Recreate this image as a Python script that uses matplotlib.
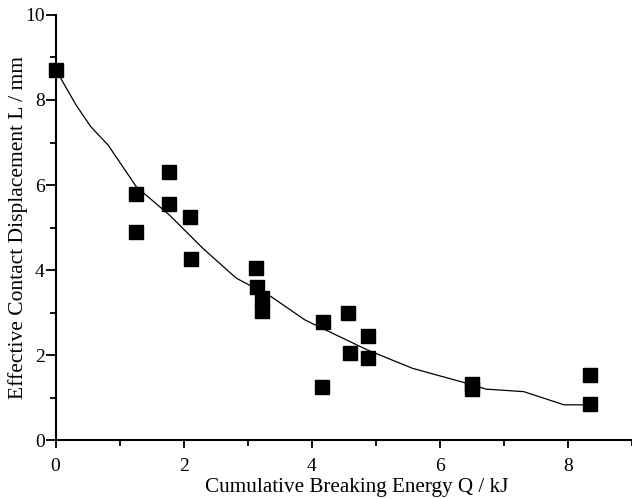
import matplotlib.pyplot as plt
from matplotlib.ticker import MultipleLocator

# measured points
energy_q = [0.0, 1.25, 1.25, 1.77, 1.77, 2.10, 2.11, 3.13, 3.14, 3.23, 3.23,
            4.18, 4.16, 4.57, 4.59, 4.87, 4.87, 6.50, 6.50, 8.35, 8.35]
displacement_l = [8.70, 5.78, 4.90, 6.30, 5.55, 5.24, 4.25, 4.06, 3.60, 3.35, 3.04,
                  2.78, 1.25, 2.98, 2.04, 2.45, 1.93, 1.32, 1.20, 1.53, 0.85]

# fitted curve
fit_q = [0.0, 0.32, 0.55, 0.82, 1.26, 1.78, 2.30, 2.82, 3.37, 3.89, 4.12,
         4.87, 5.57, 6.46, 6.72, 7.31, 7.94, 8.35]
fit_l = [8.72, 7.88, 7.37, 6.94, 5.96, 5.29, 4.51, 3.81, 3.37, 2.83, 2.66,
         2.12, 1.69, 1.32, 1.20, 1.14, 0.83, 0.83]

plt.rcParams["font.family"] = ["Liberation Serif", "DejaVu Serif"]

fig = plt.figure(figsize=(6.32, 4.99), dpi=100)
ax = fig.add_axes([0.088, 0.118, 0.912, 0.852])

ax.plot(fit_q, fit_l, color="black", linewidth=0.9)
ax.plot(energy_q, displacement_l, linestyle="none", marker="s", markersize=9.5,
        color="black", clip_on=False)

ax.set_xlim(0, 9)
ax.set_ylim(0, 10)
ax.xaxis.set_major_locator(MultipleLocator(2))
ax.xaxis.set_minor_locator(MultipleLocator(1))
ax.yaxis.set_major_locator(MultipleLocator(2))
ax.yaxis.set_minor_locator(MultipleLocator(1))

ax.spines["top"].set_visible(False)
ax.spines["right"].set_visible(False)
ax.spines["left"].set_linewidth(1.5)
ax.spines["bottom"].set_linewidth(1.5)
ax.tick_params(axis="x", which="major", direction="out", length=6, width=1.3,
               labelsize=14, pad=7)
ax.tick_params(axis="y", which="major", direction="out", length=7, width=1.3,
               labelsize=14, pad=1)
ax.tick_params(which="minor", direction="out", length=4, width=1.3)

ax.set_xlabel("Cumulative Breaking Energy Q / kJ", fontsize=15.2, va="center")
ax.set_ylabel("Effective Contact Displacement L / mm", fontsize=15.5, va="center")
ax.xaxis.set_label_coords(0.522, -0.112)
ax.yaxis.set_label_coords(-0.066, 0.5)

plt.savefig("out.png", dpi=100)
